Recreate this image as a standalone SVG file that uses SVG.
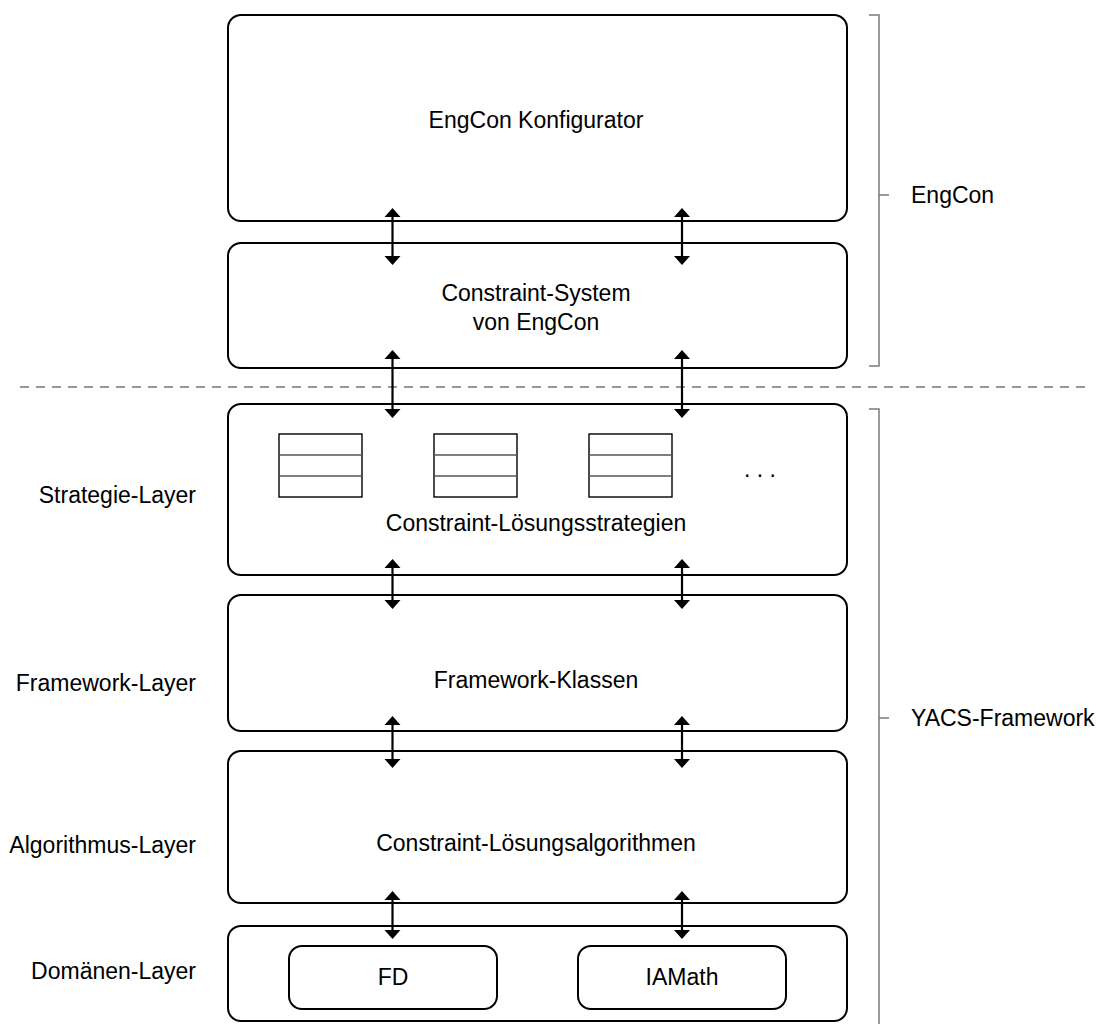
<svg xmlns="http://www.w3.org/2000/svg" width="1099" height="1024" viewBox="0 0 1099 1024">
<defs>
<style>
.box{fill:#fff;stroke:#000;stroke-width:2}
.t{font-family:"Liberation Sans",Arial,sans-serif;font-size:23px;fill:#000}
.c{text-anchor:middle}
.r{text-anchor:end}
.br{fill:none;stroke:#7a7a7a;stroke-width:1.5}
.tbl{fill:#fff;stroke:#000;stroke-width:1.4}
.row{stroke:#555;stroke-width:1.4}
.ar{stroke:#000;stroke-width:2.2}
.ah{fill:#000}
</style>
</defs>
<rect width="1099" height="1024" fill="#fff"/>
<path d="M20,387 H1087" stroke="#777" stroke-width="1.5" stroke-dasharray="9,7"/>
<g id="bracket-engcon">
<path class="br" d="M869,15 H879 V366 H869 M879,195 H889"/>
<text class="t" x="911" y="203">EngCon</text>
</g>
<g id="bracket-yacs">
<path class="br" d="M869,409 H879 V1026 M879,718 H889"/>
<text class="t" x="911" y="726">YACS-Framework</text>
</g>
<g id="layer-labels">
<text class="t r" x="196" y="503">Strategie-Layer</text>
<text class="t r" x="196" y="691">Framework-Layer</text>
<text class="t r" x="196" y="853">Algorithmus-Layer</text>
<text class="t r" x="196" y="979">Domänen-Layer</text>
</g>
<g id="engcon-konfigurator">
<rect class="box" x="228" y="15" width="619" height="206" rx="13"/>
<text class="t c" x="536" y="128">EngCon Konfigurator</text>
</g>
<g id="constraint-system">
<rect class="box" x="228" y="243" width="619" height="125" rx="13"/>
<text class="t c" x="536" y="301">Constraint-System</text>
<text class="t c" x="536" y="330">von EngCon</text>
</g>
<g id="strategien">
<rect class="box" x="228" y="404" width="619" height="171" rx="13"/>
<g>
<rect class="tbl" x="279" y="434" width="83" height="63"/>
<path class="row" d="M279,455 H362 M279,476 H362"/>
</g>
<g>
<rect class="tbl" x="434" y="434" width="83" height="63"/>
<path class="row" d="M434,455 H517 M434,476 H517"/>
</g>
<g>
<rect class="tbl" x="589" y="434" width="83" height="63"/>
<path class="row" d="M589,455 H672 M589,476 H672"/>
</g>
<text class="t c" x="760" y="477">. . .</text>
<text class="t c" x="536" y="531">Constraint-Lösungsstrategien</text>
</g>
<g id="framework-klassen">
<rect class="box" x="228" y="595" width="619" height="136" rx="13"/>
<text class="t c" x="536" y="688">Framework-Klassen</text>
</g>
<g id="algorithmen">
<rect class="box" x="228" y="751" width="619" height="152" rx="13"/>
<text class="t c" x="536" y="851">Constraint-Lösungsalgorithmen</text>
</g>
<g id="domaenen">
<rect class="box" x="228" y="926" width="619" height="95" rx="13"/>
</g>
<g id="fd">
<rect class="box" x="289" y="946" width="208" height="63" rx="13"/>
<text class="t c" x="393" y="985">FD</text>
</g>
<g id="iamath">
<rect class="box" x="578" y="946" width="208" height="63" rx="13"/>
<text class="t c" x="682" y="985">IAMath</text>
</g>
<g id="connectors">
<g transform="translate(392.5,0)">
<path class="ar" d="M0,214 V259"/><path class="ah" d="M-8,217 L0,208 L8,217 Z M-8,256 L0,265 L8,256 Z"/>
<path class="ar" d="M0,356 V412"/><path class="ah" d="M-8,359 L0,350 L8,359 Z M-8,409 L0,418 L8,409 Z"/>
<path class="ar" d="M0,565 V603"/><path class="ah" d="M-8,568 L0,559 L8,568 Z M-8,600 L0,609 L8,600 Z"/>
<path class="ar" d="M0,722 V762"/><path class="ah" d="M-8,725 L0,716 L8,725 Z M-8,759 L0,768 L8,759 Z"/>
<path class="ar" d="M0,897 V933"/><path class="ah" d="M-8,900 L0,891 L8,900 Z M-8,930 L0,939 L8,930 Z"/>
</g>
<g transform="translate(682,0)">
<path class="ar" d="M0,214 V259"/><path class="ah" d="M-8,217 L0,208 L8,217 Z M-8,256 L0,265 L8,256 Z"/>
<path class="ar" d="M0,356 V412"/><path class="ah" d="M-8,359 L0,350 L8,359 Z M-8,409 L0,418 L8,409 Z"/>
<path class="ar" d="M0,565 V603"/><path class="ah" d="M-8,568 L0,559 L8,568 Z M-8,600 L0,609 L8,600 Z"/>
<path class="ar" d="M0,722 V762"/><path class="ah" d="M-8,725 L0,716 L8,725 Z M-8,759 L0,768 L8,759 Z"/>
<path class="ar" d="M0,897 V933"/><path class="ah" d="M-8,900 L0,891 L8,900 Z M-8,930 L0,939 L8,930 Z"/>
</g>
</g>
</svg>
